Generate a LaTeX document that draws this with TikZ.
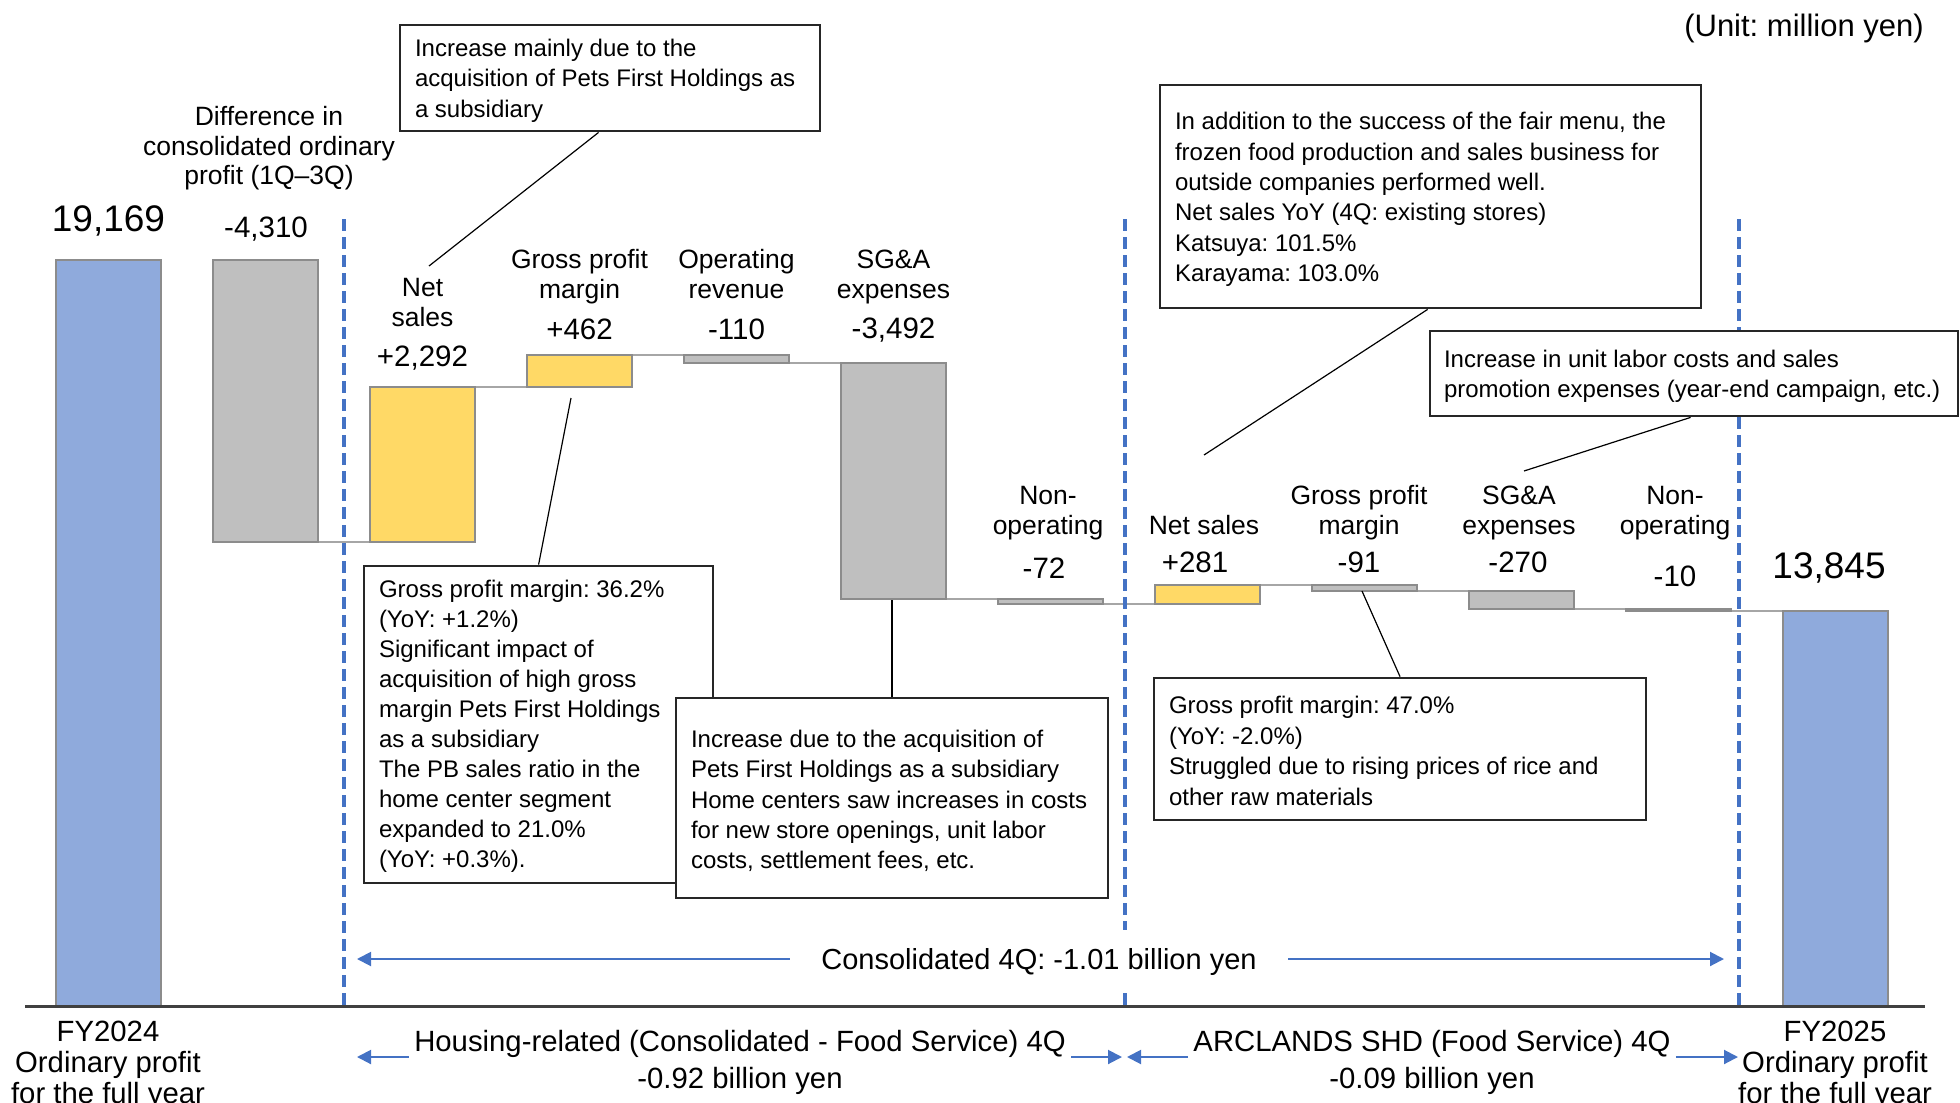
\documentclass[tikz,border=0pt]{standalone}
\usepackage{fontspec}
\setmainfont{Liberation Sans}
\frenchspacing
\usetikzlibrary{arrows.meta,calc}
\definecolor{barblue}{HTML}{8FAADC}
\definecolor{baryellow}{HTML}{FFD966}
\definecolor{bargray}{HTML}{BFBFBF}
\definecolor{edgegray}{HTML}{8C8C8C}
\definecolor{linkgray}{HTML}{A6A6A6}
\definecolor{dashblue}{HTML}{4472C4}
\definecolor{boxedge}{HTML}{262626}
\definecolor{axisgray}{HTML}{404040}
\begin{document}
\begin{tikzpicture}[x=0.5pt,y=-0.5pt,
  bar/.style={draw=edgegray, line width=1pt},
  link/.style={draw=linkgray, line width=1pt},
  divider/.style={draw=dashblue, line width=1.75pt, dash pattern=on 6pt off 3pt},
  callbox/.style={draw=boxedge, line width=1.4pt, fill=white, inner sep=0pt},
  calltext/.style={align=left, font=\fontsize{12}{15.2}\selectfont, inner sep=0pt, anchor=west},
  leader/.style={draw=black, line width=0.6pt},
  cat/.style={align=center, font=\fontsize{13.25}{15}\selectfont, inner sep=0pt},
  val/.style={font=\fontsize{14.75}{17}\selectfont, inner sep=0pt},
  big/.style={font=\fontsize{18.5}{22}\selectfont, inner sep=0pt},
  spanarrow/.style={draw=dashblue, line width=1pt, -{Triangle[length=7pt,width=7pt]}},
  bottomlbl/.style={align=center, font=\fontsize{14.65}{15.4}\selectfont, inner sep=0pt},
  seglbl/.style={align=center, font=\fontsize{14.65}{18.5}\selectfont, inner sep=0pt}
]
\useasboundingbox (0,0) rectangle (1960,1103);

% ---------- connector lines between bars ----------
\draw[link] (318,542) -- (370,542);
\draw[link] (475,387) -- (527,387);
\draw[link] (632,355) -- (684,355);
\draw[link] (789,363) -- (841,363);
\draw[link] (946,599) -- (998,599);
\draw[link] (1103,604) -- (1155,604);
\draw[link] (1260,585) -- (1312,585);
\draw[link] (1417,591) -- (1469,591);
\draw[link] (1574,609) -- (1626,609);
\draw[link] (1731,611) -- (1783,611);

% ---------- bars ----------
\draw[bar, fill=barblue]   (56,260)   rectangle (161,1006);
\draw[bar, fill=bargray]   (213,260)  rectangle (318,542);
\draw[bar, fill=baryellow] (370,387)  rectangle (475,542);
\draw[bar, fill=baryellow] (527,355)  rectangle (632,387);
\draw[bar, fill=bargray]   (684,355)  rectangle (789,363);
\draw[bar, fill=bargray]   (841,363)  rectangle (946,599);
\draw[bar, fill=bargray]   (998,599)  rectangle (1103,604);
\draw[bar, fill=baryellow] (1155,585) rectangle (1260,604);
\draw[bar, fill=bargray]   (1312,585) rectangle (1417,591);
\draw[bar, fill=bargray]   (1469,591) rectangle (1574,609);
\draw[bar, fill=bargray]   (1626,609) rectangle (1731,611);
\draw[bar, fill=barblue]   (1783,611) rectangle (1888,1006);

% ---------- axis ----------
\draw[draw=axisgray, line width=1.5pt] (25,1006) -- (1925,1006);

% ---------- dividers ----------
\draw[divider] (344,219) -- (344,1006);
\draw[divider] (1125,219) -- (1125,1006);
\draw[divider] (1739,219) -- (1739,1006);

% ---------- labels ----------
\node[font=\fontsize{15.5}{18}\selectfont, inner sep=0pt] (unit) at (1804,28.5) {(Unit: million yen)};

\node[big] (v0) at (108.5,220.5) {19,169};
\node[cat, font=\fontsize{13.25}{14.75}\selectfont] (l1) at (269,148.5) {Difference in\\consolidated ordinary\\profit (1Q–3Q)};
\node[val] (v1) at (266,229.5) {-4,310};
\node[cat] (l2) at (422.5,302.5) {Net\\sales};
\node[val] (v2) at (422.5,358.5) {+2,292};
\node[cat] (l3) at (579.5,276.5) {Gross profit\\margin};
\node[val] (v3) at (579.5,329) {+462};
\node[cat] (l4) at (736.5,274) {Operating\\revenue};
\node[val] (v4) at (736.5,329) {-110};
\node[cat] (l5) at (893.5,276.5) {SG\&A\\expenses};
\node[val] (v5) at (893.5,330.5) {-3,492};
\node[cat] (l6) at (1048,513) {Non-\\operating};
\node[val] (v6) at (1044,568) {-72};
\node[cat] (l7) at (1204,525) {Net sales};
\node[val] (v7) at (1195,562) {+281};
\node[cat] (l8) at (1359,513) {Gross profit\\margin};
\node[val] (v8) at (1359,562) {-91};
\node[cat] (l9) at (1519,513) {SG\&A\\expenses};
\node[val] (v9) at (1518,562) {-270};
\node[cat] (l10) at (1675,513) {Non-\\operating};
\node[val] (v10) at (1675,576) {-10};
\node[big] (v11) at (1829,567.5) {13,845};

% ---------- callouts ----------
\node[callbox, minimum width=210pt, minimum height=53pt] (c1) at (610,78) {};
\node[calltext] (c1t) at ($(c1.west)+(16,2.5)$) {Increase mainly due to the\\acquisition of Pets First Holdings as\\a subsidiary};
\coordinate (p1) at (429,266);
\draw[leader] ($(c1.south west)+(200,0)$) -- (p1);

\node[callbox, minimum width=270.5pt, minimum height=111.5pt] (c2) at (1430.5,196.5) {};
\node[calltext] (c2t) at ($(c2.west)+(16,3)$) {In addition to the success of the fair menu, the\\frozen food production and sales business for\\outside companies performed well.\\Net sales YoY (4Q: existing stores)\\Katsuya: 101.5\%\\Karayama: 103.0\%};
\coordinate (p2) at (1204,455);
\draw[leader] ($(c2.south west)+(269,0)$) -- (p2);

\node[callbox, minimum width=264pt, minimum height=42.5pt] (c3) at (1694,373.5) {};
\node[calltext] (c3t) at ($(c3.west)+(15,2.5)$) {Increase in unit labor costs and sales\\promotion expenses (year-end campaign, etc.)};
\coordinate (p3) at (1524,471);
\draw[leader] ($(c3.south west)+(262,0)$) -- (p3);

\node[callbox, minimum width=174.5pt, minimum height=158.5pt] (c4) at (538.5,724.5) {};
\node[calltext, font=\fontsize{12}{15}\selectfont] (c4t) at ($(c4.west)+(16,2)$) {Gross profit margin: 36.2\%\\(YoY: +1.2\%)\\Significant impact of\\acquisition of high gross\\margin Pets First Holdings\\as a subsidiary\\The PB sales ratio in the\\home center segment\\expanded to 21.0\%\\(YoY: +0.3\%).};
\coordinate (p4) at (571,398);
\draw[leader] ($(c4.north west)+(176,0)$) -- (p4);

\node[callbox, minimum width=216pt, minimum height=100pt] (c5) at (892,798) {};
\node[calltext] (c5t) at ($(c5.west)+(16,3)$) {Increase due to the acquisition of\\Pets First Holdings as a subsidiary\\Home centers saw increases in costs\\for new store openings, unit labor\\costs, settlement fees, etc.};
\coordinate (p5) at (892,600);
\draw[leader] (c5.north) -- (p5);

\node[callbox, minimum width=246pt, minimum height=71pt] (c6) at (1400,749) {};
\node[calltext, font=\fontsize{12}{15.4}\selectfont] (c6t) at ($(c6.west)+(16,2)$) {Gross profit margin: 47.0\%\\(YoY: -2.0\%)\\Struggled due to rising prices of rice and\\other raw materials};
\coordinate (p6) at (1362,591);
\draw[leader] (c6.north) -- (p6);

% ---------- span arrows ----------
\node[font=\fontsize{14.5}{17}\selectfont, fill=white, inner xsep=2pt, inner ysep=9pt] (cons) at (1039,961.5) {Consolidated 4Q: -1.01 billion yen};
\coordinate (consL) at (357,959);
\coordinate (consR) at (1724,959);
\draw[spanarrow] ($(cons.west)+(-27,-2.5)$) -- (consL);
\draw[spanarrow] ($(cons.east)+(27,-2.5)$) -- (consR);

\node[seglbl] (hous) at (740,1062.5) {Housing-related (Consolidated - Food Service) 4Q\\-0.92 billion yen};
\coordinate (housL) at (357,1057);
\coordinate (housR) at (1122,1057);
\draw[spanarrow] ($(hous.west)+(-5,-5.5)$) -- (housL);
\draw[spanarrow] ($(hous.east)+(5,-5.5)$) -- (housR);

\node[seglbl] (food) at (1432,1062.5) {ARCLANDS SHD (Food Service) 4Q\\-0.09 billion yen};
\coordinate (foodL) at (1127,1057);
\coordinate (foodR) at (1738,1057);
\draw[spanarrow] ($(food.west)+(-5,-5.5)$) -- (foodL);
\draw[spanarrow] ($(food.east)+(5,-5.5)$) -- (foodR);

% ---------- bottom labels ----------
\node[bottomlbl] (fy24) at (108,1065) {FY2024\\Ordinary profit\\for the full year};
\node[bottomlbl] (fy25) at (1835,1065) {FY2025\\Ordinary profit\\for the full year};
\end{tikzpicture}
\end{document}
